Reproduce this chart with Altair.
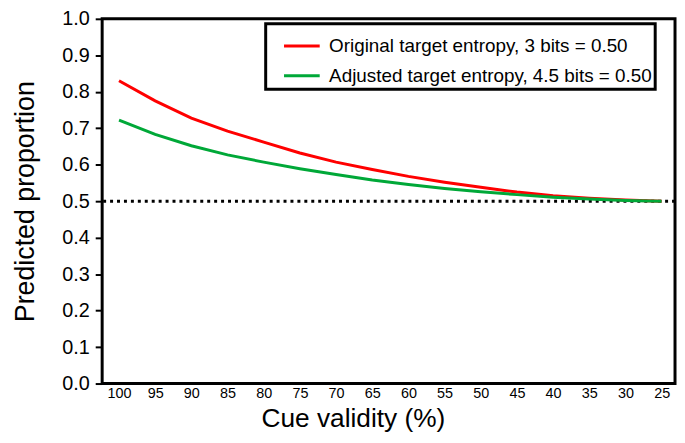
import altair as alt
import pandas as pd

validity = [100, 95, 90, 85, 80, 75, 70, 65, 60, 55, 50, 45, 40, 35, 30, 25]
original = [0.830, 0.775, 0.728, 0.692, 0.662, 0.632, 0.607, 0.587, 0.568, 0.552,
            0.538, 0.525, 0.515, 0.508, 0.503, 0.500]
adjusted = [0.722, 0.683, 0.652, 0.627, 0.607, 0.589, 0.573, 0.558, 0.546, 0.535,
            0.526, 0.518, 0.511, 0.506, 0.502, 0.500]
series_names = ["Original target entropy, 3 bits = 0.50",
                "Adjusted target entropy, 4.5 bits = 0.50"]
series_colors = ["#ff0000", "#00a838"]
y_ticks = [0.0, 0.1, 0.2, 0.3, 0.4, 0.5, 0.6, 0.7, 0.8, 0.9, 1.0]
chance = [0.5]

rows = []
for name, vals in zip(series_names, [original, adjusted]):
    for v, p in zip(validity, vals):
        rows.append({"validity": v, "proportion": p, "series": name})
df = pd.DataFrame(rows)

FONT = "Liberation Sans, Arial, sans-serif"
NARROW = "Liberation Sans Narrow, Arial Narrow, Liberation Sans, Arial, sans-serif"

x_scale = alt.Scale(domain=[102.33, 23.15], nice=False, zero=False)
y_scale = alt.Scale(domain=[0, 1], nice=False)

y_axis = alt.Axis(title="Predicted proportion", values=y_ticks, format=".1f",
                  grid=False, domain=False, tickSize=7, tickWidth=2,
                  tickColor="black", labelFont=FONT, labelFontSize=20,
                  labelColor="black", labelPadding=6, labelOverlap=False,
                  labelFlush=False, titleFont=FONT,
                  titleFontSize=27, titleFontWeight="normal",
                  titleColor="black", titlePadding=22)

x_axis = alt.Axis(title="Cue validity (%)", values=validity, format="d",
                  ticks=False, domain=False, grid=False,
                  labelFont=NARROW, labelFontSize=14.5, labelPadding=3,
                  labelColor="black", titleFont=FONT, titleFontSize=26.5,
                  titleFontWeight="normal", titleColor="black",
                  titlePadding=6, titleX=253, labelOverlap=False)

lines = alt.Chart(df).mark_line(strokeWidth=3).encode(
    x=alt.X("validity:Q", scale=x_scale, axis=x_axis),
    y=alt.Y("proportion:Q", scale=y_scale, axis=y_axis),
    color=alt.Color("series:N",
                    scale=alt.Scale(domain=series_names, range=series_colors),
                    legend=alt.Legend(title=None, orient="none", legendX=165,
                                      legendY=5, symbolType="stroke",
                                      symbolSize=1296, symbolStrokeWidth=3,
                                      symbolOffset=14,
                                      labelFont=FONT, labelFontSize=19,
                                      labelColor="black", labelOffset=8,
                                      labelLimit=600,
                                      strokeColor="black", padding=3,
                                      rowPadding=-10, fillColor="white")),
    order=alt.Order("validity:Q", sort="descending"),
)

rule = alt.Chart(pd.DataFrame({"y": chance})).mark_rule(
    color="black", strokeWidth=3, strokeDash=[3, 4]
).encode(y=alt.Y("y:Q", scale=y_scale, axis=y_axis))

chart = alt.layer(rule, lines).properties(
    width=578, height=368,
    autosize=alt.AutoSizeParams(type="none"),
    padding={"left": 95, "top": 9, "right": 2, "bottom": 50},
).configure_view(
    stroke="black", strokeWidth=3
).configure_legend(
    strokeWidth=3
)

chart.save("out.html", embed_options={"renderer": "svg", "actions": False})
